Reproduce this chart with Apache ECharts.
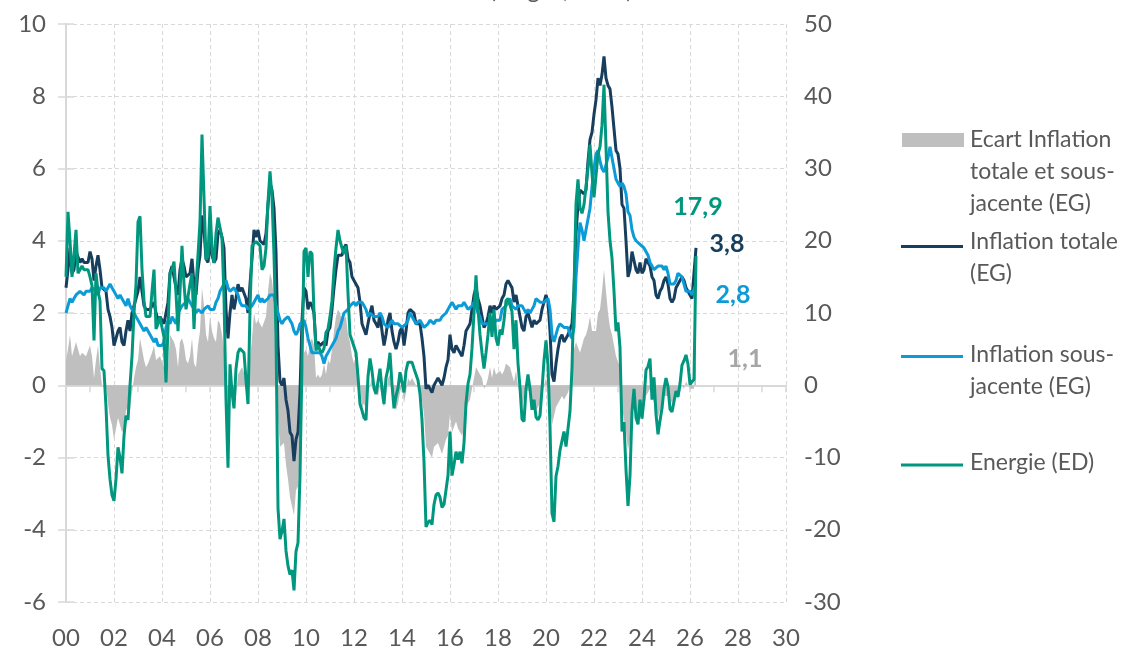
<!DOCTYPE html>
<html>
<head>
<meta charset="utf-8">
<script src="https://cdn.jsdelivr.net/npm/echarts@6/dist/echarts.min.js"></script>
<style>
html,body{margin:0;padding:0;background:#fff;}
#c{width:1128px;height:650px;}
</style>
</head>
<body>
<div id="c"></div>
<script>
// Monthly data, Jan 2000 -> Apr 2026 (index 0 = Jan 2000)
const yearLabels = ['00','02','04','06','08','10','12','14','16','18','20','22','24','26','28','30'];

const inflationTotale = [
2.7,3.2,3.8,3.1,3.2,3.7,3.7,3.4,3.5,3.4,3.4,3.4,
3.7,3.5,2.9,3.3,3.6,3.2,2.7,2.7,2.6,2.1,1.9,1.6,
1.1,1.1,1.5,1.6,1.2,1.1,1.5,1.8,1.5,2.0,2.2,2.4,
2.6,3.0,3.0,2.2,2.1,2.1,2.1,2.2,2.3,2.0,1.8,1.9,
1.9,1.7,1.7,2.3,3.1,3.3,3.0,2.7,2.5,3.2,3.5,3.3,
3.0,3.0,3.1,3.5,2.8,2.5,3.2,3.6,4.7,4.3,3.5,3.4,
4.0,3.6,3.4,3.5,4.2,4.3,4.1,3.8,2.1,1.3,2.0,2.5,
2.1,2.4,2.8,2.6,2.7,2.7,2.4,2.0,2.8,3.5,4.3,4.1,
4.3,4.0,4.0,3.9,4.2,5.0,5.6,5.4,4.9,3.7,1.1,0.1,
0.0,0.2,-0.4,-0.7,-1.3,-1.4,-2.1,-1.5,-1.3,-0.2,1.8,2.7,
2.6,2.1,2.3,2.2,2.0,1.1,1.2,1.1,1.1,1.2,1.1,1.5,
1.6,2.1,2.7,3.2,3.6,3.6,3.6,3.8,3.9,3.5,3.4,3.0,
2.9,2.9,2.7,2.3,1.7,1.7,1.4,1.7,2.0,2.2,1.8,1.7,
1.6,2.0,1.5,1.1,1.4,1.8,2.0,1.5,1.2,1.0,1.2,1.5,
1.6,1.1,1.5,2.0,2.1,2.1,2.0,1.7,1.7,1.7,1.3,0.8,
-0.1,0.0,-0.1,-0.2,0.0,0.1,0.2,0.2,0.0,0.2,0.5,0.7,
1.4,1.0,0.9,1.1,1.0,1.0,0.8,1.1,1.5,1.6,1.7,2.1,
2.5,2.7,2.4,2.2,1.9,1.6,1.7,1.9,2.2,2.0,2.2,2.1,
2.1,2.2,2.4,2.5,2.8,2.9,2.9,2.7,2.3,2.5,2.2,1.9,
1.6,1.5,1.9,2.0,1.8,1.6,1.8,1.7,1.7,1.8,2.1,2.3,
2.5,2.3,1.5,0.3,0.1,0.6,1.0,1.3,1.4,1.2,1.2,1.4,
1.4,1.7,2.6,4.2,5.0,5.4,5.4,5.3,5.4,6.2,6.8,7.0,
7.5,7.9,8.5,8.3,8.6,9.1,8.5,8.3,8.2,7.7,7.1,6.5,
6.4,6.0,5.0,4.9,4.0,3.0,3.2,3.7,3.7,3.2,3.1,3.4,
3.1,3.2,3.5,3.4,3.3,3.0,2.9,2.5,2.4,2.6,2.7,2.9,
3.0,2.8,2.4,2.3,2.4,2.7,2.7,2.9,3.0,2.9,2.7,2.7,
2.5,2.4,2.4,3.8];

const inflationSousJacente = [
2.0,2.2,2.4,2.3,2.4,2.5,2.5,2.6,2.6,2.5,2.6,2.6,
2.6,2.7,2.7,2.6,2.5,2.7,2.7,2.7,2.6,2.6,2.8,2.7,
2.6,2.6,2.4,2.5,2.5,2.3,2.2,2.4,2.2,2.2,2.0,1.9,
1.9,1.7,1.7,1.5,1.6,1.5,1.5,1.3,1.2,1.3,1.1,1.1,
1.1,1.2,1.6,1.8,1.7,1.9,1.8,1.7,2.0,2.0,2.2,2.2,
2.3,2.4,2.3,2.2,2.2,2.0,2.1,2.1,2.0,2.1,2.1,2.2,
2.1,2.1,2.1,2.3,2.4,2.6,2.7,2.8,2.9,2.7,2.6,2.6,
2.7,2.7,2.5,2.3,2.2,2.2,2.2,2.1,2.1,2.2,2.3,2.4,
2.5,2.3,2.4,2.3,2.3,2.4,2.5,2.5,2.5,2.2,2.0,1.8,
1.7,1.8,1.8,1.9,1.8,1.7,1.5,1.4,1.5,1.7,1.7,1.8,
1.6,1.3,1.1,0.9,0.9,0.9,0.9,0.9,0.8,0.6,0.8,0.8,
1.0,1.1,1.2,1.3,1.5,1.6,1.8,2.0,2.0,2.1,2.2,2.2,
2.3,2.2,2.3,2.3,2.3,2.2,2.1,1.9,2.0,2.0,1.9,1.9,
1.9,2.0,1.9,1.7,1.7,1.6,1.7,1.8,1.7,1.7,1.7,1.7,
1.6,1.6,1.7,1.8,2.0,1.9,1.9,1.7,1.7,1.8,1.7,1.6,
1.6,1.7,1.8,1.8,1.7,1.8,1.8,1.8,1.9,1.9,2.0,2.1,
2.2,2.3,2.2,2.1,2.2,2.2,2.2,2.3,2.2,2.1,2.1,2.2,
2.3,2.2,2.0,1.9,1.7,1.7,1.7,1.7,1.7,1.8,1.7,1.8,
1.8,1.8,2.1,2.1,2.2,2.3,2.4,2.2,2.2,2.1,2.2,2.2,
2.2,2.1,2.0,2.1,2.0,2.1,2.2,2.4,2.4,2.3,2.3,2.3,
2.3,2.4,2.1,1.4,1.2,1.2,1.6,1.7,1.7,1.6,1.6,1.6,
1.4,1.3,1.6,3.0,3.8,4.5,4.3,4.0,4.0,4.6,4.9,5.5,
6.0,6.4,6.5,6.2,6.0,5.9,5.9,6.3,6.6,6.3,6.0,5.7,
5.6,5.5,5.6,5.5,5.3,4.8,4.7,4.3,4.1,4.0,4.0,3.9,
3.9,3.8,3.8,3.6,3.4,3.3,3.2,3.2,3.3,3.3,3.3,3.2,
3.3,3.1,2.8,2.8,2.8,2.9,3.1,3.1,3.0,3.0,2.6,2.6,
2.6,2.5,2.5,2.8];

const ecartTotaleSousJacente = [
0.7,1.0,1.4,0.8,0.8,1.2,1.2,0.8,0.9,0.9,0.8,0.8,
1.1,0.8,0.2,0.7,1.1,0.5,0.0,0.0,0.0,-0.5,-0.9,-1.1,
-1.5,-1.5,-0.9,-0.9,-1.3,-1.2,-0.7,-0.6,-0.7,-0.2,0.2,0.5,
0.7,1.3,1.3,0.7,0.5,0.6,0.6,0.9,1.1,0.7,0.7,0.8,
0.8,0.5,0.1,0.5,1.4,1.4,1.2,1.0,0.5,1.2,1.3,1.1,
0.7,0.6,0.8,1.3,0.6,0.5,1.1,1.5,2.7,2.2,1.4,1.2,
1.9,1.5,1.3,1.2,1.8,1.7,1.4,1.0,-0.8,-1.4,-0.6,-0.1,
-0.6,-0.3,0.3,0.3,0.5,0.5,0.2,-0.1,0.7,1.3,2.0,1.7,
1.8,1.7,1.6,1.6,1.9,2.6,3.1,2.9,2.4,1.5,-0.9,-1.7,
-1.7,-1.6,-2.2,-2.6,-3.1,-3.1,-3.6,-2.9,-2.8,-1.9,0.1,0.9,
1.0,0.8,1.2,1.3,1.1,0.2,0.3,0.2,0.3,0.6,0.3,0.7,
0.6,1.0,1.5,1.9,2.1,2.0,1.8,1.8,1.9,1.4,1.2,0.8,
0.6,0.7,0.4,0.0,-0.6,-0.5,-0.7,-0.2,0.0,0.2,-0.1,-0.2,
-0.3,0.0,-0.4,-0.6,-0.3,0.2,0.3,-0.3,-0.5,-0.7,-0.5,-0.2,
0.0,-0.5,-0.2,0.2,0.1,0.2,0.1,0.0,0.0,-0.1,-0.4,-0.8,
-1.7,-1.7,-1.9,-2.0,-1.7,-1.7,-1.6,-1.6,-1.9,-1.7,-1.5,-1.4,
-0.8,-1.3,-1.3,-1.0,-1.2,-1.2,-1.4,-1.2,-0.7,-0.5,-0.4,-0.1,
0.2,0.5,0.4,0.3,0.2,-0.1,0.0,0.2,0.5,0.2,0.5,0.3,
0.3,0.4,0.3,0.4,0.6,0.6,0.5,0.5,0.1,0.4,0.0,-0.3,
-0.6,-0.6,-0.1,-0.1,-0.2,-0.5,-0.4,-0.7,-0.7,-0.5,-0.2,0.0,
0.2,-0.1,-0.6,-1.1,-1.1,-0.6,-0.6,-0.4,-0.3,-0.4,-0.4,-0.2,
0.0,0.4,1.0,1.2,1.2,0.9,1.1,1.3,1.4,1.6,1.9,1.5,
1.5,1.5,2.0,2.1,2.6,3.2,2.6,2.0,1.6,1.4,1.1,0.8,
0.8,0.5,-0.6,-0.6,-1.3,-1.8,-1.5,-0.6,-0.4,-0.8,-0.9,-0.5,
-0.8,-0.6,-0.3,-0.2,-0.1,-0.3,-0.3,-0.7,-0.9,-0.7,-0.6,-0.3,
-0.3,-0.3,-0.4,-0.5,-0.4,-0.2,-0.4,-0.2,0.0,-0.1,0.1,0.1,
-0.1,-0.1,-0.1,1.1];

const energie = [
15,24,20,15,18,21.5,15.5,16,16.5,16,16,16,
15,13.8,6.2,15.5,13,11.7,2.3,2,-3,-9.7,-13,-15.2,
-16,-13,-8.6,-10,-12.2,-7,-4.2,-4.8,0,4,10,14,
22.6,23.4,16,11.7,9.5,9.5,9.5,13,16,7.8,8.5,9.5,
8,6.7,0.4,8,15.5,16,17.1,12.7,7.5,13,19.3,14,
10.5,10.5,14,15.5,7.8,13.8,18,22.6,34.7,26,17.4,17.8,
24.8,18.8,16.9,21,23.2,23,20.4,12.2,-2,-11.4,2.9,-1,
-3.2,2.3,4.5,5.1,5,4.5,0.7,-2.6,10.5,19.3,19.5,19.9,
19.6,19.3,16,16.5,19,25.4,29.6,26,18,7,-17,-21.3,
-20.2,-18.5,-22.9,-25,-26.2,-25.6,-28.4,-23,-21.8,-12.5,3,18.5,
19,15,18.5,18.2,10,4.8,5.6,4.8,4.5,5.1,7.3,7.8,
9.5,11.7,16,19,21.5,20,19,18.2,19.3,12.7,7,6.2,
6,4.5,1.2,-2.6,-3.5,-4.5,-4.8,1.2,3.7,2,-0.4,-1.2,
0.5,2.3,-0.5,-2.6,1,2.3,4.5,0.1,-3.2,-1.5,-0.4,1.8,
1.8,-1,2,3.2,3.3,3.2,2.3,1.5,0.7,-1.2,-4.8,-10.6,
-19.6,-19,-18.7,-19.3,-16.5,-15.2,-14.9,-15.5,-16.9,-16.5,-14.5,-12.5,
-6.4,-12.5,-11,-9.2,-10.3,-9.2,-10.8,-8,-2.5,0.2,1.5,5.1,
10,15.2,10.5,7,4.5,2.3,4.5,7,10,6.7,10.5,6.5,
5.5,7.7,7,9,11.7,12,12.2,10.2,5,9,3,-0.3,
-4.7,-5,-0.5,1.5,-0.5,-3.4,-2,-4.4,-4.8,-4.2,-0.6,3.4,
6.2,2.8,-5.7,-17.7,-18.9,-12.6,-11.2,-9,-7.7,-6.4,-8.5,-6,
-3.6,2.4,13.2,25.1,28.5,24.5,23.8,25,24.8,30,33.3,29.3,
26,26,32,33,36,41.6,33,24,20,17.6,13,7.5,
8.7,5.2,-6.4,-5.1,-11.7,-16.7,-12.5,-3.6,-0.5,-4.5,-5.4,-2,
-4.6,-1.9,2.1,2.6,3.7,-2,1.1,-4,-6.8,-4.9,-3.2,-0.5,
1,-0.2,-3.3,-3.7,-3.5,-0.8,-1.6,0.2,2.8,3.4,4.2,2.9,
0.1,0.5,0.8,17.9];

const seriesNames = ['Ecart Inflation totale et sous-jacente (EG)','Inflation totale (EG)','Inflation sous-jacente (EG)','Energie (ED)'];
const colors = {gap:'#BFBFBF', total:'#173E5C', core:'#0B9BD7', energy:'#00977E', text:'#595959', axis:'#D9D9D9'};

const toPairs = arr => arr.map((v,i)=>[i,v]);
const fmt = v => v.toFixed(1).replace('.', ',');
const last = arr => arr[arr.length-1];

const FONT = 'Lato, "Open Sans", sans-serif';
const chart = echarts.init(document.getElementById('c'), null, {renderer:'canvas'});

chart.setOption({
  animation:false,
  backgroundColor:'#fff',
  grid:{left:66, right:342, top:24, bottom:46, containLabel:false},
  xAxis:[
    {type:'value', min:0, max:360, interval:24, position:'bottom',
     axisLine:{show:false, onZero:false}, axisTick:{show:false},
     axisLabel:{color:colors.text, fontSize:24, fontFamily:FONT, margin:24,
       formatter:v=>yearLabels[Math.round(v/24)]},
     splitLine:{show:true, lineStyle:{color:colors.axis, type:[4,3], width:1}}},
    {type:'value', min:0, max:360, interval:12, position:'top',
     axisLine:{show:true, onZero:true, onZeroAxisIndex:0, lineStyle:{color:colors.axis, width:2}},
     axisTick:{show:true, inside:true, length:7, lineStyle:{color:colors.axis, width:1.5}},
     axisLabel:{show:false}, splitLine:{show:false}}
  ],
  yAxis:[
    {type:'value', min:-6, max:10, interval:2, position:'left',
     axisLine:{show:true, lineStyle:{color:colors.axis, width:2}},
     axisTick:{show:true, length:8, lineStyle:{color:colors.axis, width:1.5}},
     axisLabel:{color:colors.text, fontSize:24, fontFamily:FONT, margin:20},
     splitLine:{show:true, lineStyle:{color:colors.axis, type:[4,3], width:1}}},
    {type:'value', min:-30, max:50, interval:10, position:'right',
     axisLine:{show:true, lineStyle:{color:colors.axis, width:2}},
     axisTick:{show:true, length:8, lineStyle:{color:colors.axis, width:1.5}},
     axisLabel:{color:colors.text, fontSize:24, fontFamily:FONT, margin:18},
     splitLine:{show:false}}
  ],
  series:[
    {name:seriesNames[0], type:'line', xAxisIndex:0, yAxisIndex:0, data:toPairs(ecartTotaleSousJacente),
     symbol:'none', lineStyle:{width:0, color:colors.gap}, itemStyle:{color:colors.gap},
     areaStyle:{color:colors.gap, opacity:1, origin:0}, z:1},
    {name:seriesNames[1], type:'line', xAxisIndex:0, yAxisIndex:0, data:toPairs(inflationTotale),
     symbol:'none', lineStyle:{width:3, color:colors.total}, itemStyle:{color:colors.total}, z:3},
    {name:seriesNames[2], type:'line', xAxisIndex:0, yAxisIndex:0, data:toPairs(inflationSousJacente),
     symbol:'none', lineStyle:{width:3, color:colors.core}, itemStyle:{color:colors.core}, z:4},
    {name:seriesNames[3], type:'line', xAxisIndex:0, yAxisIndex:1, data:toPairs(energie),
     symbol:'none', lineStyle:{width:3, color:colors.energy}, itemStyle:{color:colors.energy}, z:5}
  ],
  graphic:[
    // partially visible title (cut at top of the image)
    {type:'text', x:561, y:-22, style:{text:'(en g.a., en %)', font:'24px '+FONT, fill:colors.text, align:'center', verticalAlign:'top'}, z:10},
    // end-value labels
    {type:'text', x:698, y:207, style:{text:fmt(last(energie)), font:'bold 25px '+FONT, fill:colors.energy, align:'center', verticalAlign:'middle'}, z:10},
    {type:'text', x:727, y:244, style:{text:fmt(last(inflationTotale)), font:'bold 25px '+FONT, fill:colors.total, align:'center', verticalAlign:'middle'}, z:10},
    {type:'text', x:733, y:295, style:{text:fmt(last(inflationSousJacente)), font:'bold 25px '+FONT, fill:colors.core, align:'center', verticalAlign:'middle'}, z:10},
    {type:'text', x:745, y:359, style:{text:fmt(last(ecartTotaleSousJacente)), font:'bold 25px '+FONT, fill:'#A6A6A6', align:'center', verticalAlign:'middle'}, z:10},
    // legend
    {type:'rect', shape:{x:902, y:133, width:62, height:14}, style:{fill:colors.gap}, z:10},
    {type:'text', x:970, y:124, style:{text:'Ecart Inflation\ntotale et sous-\njacente (EG)', font:'23px '+FONT, lineHeight:31.7, fill:colors.text, align:'left', verticalAlign:'top'}, z:10},
    {type:'line', shape:{x1:901, y1:246.5, x2:963, y2:246.5}, style:{stroke:colors.total, lineWidth:3}, z:10},
    {type:'text', x:970, y:226, style:{text:'Inflation totale\n(EG)', font:'23px '+FONT, lineHeight:31.7, fill:colors.text, align:'left', verticalAlign:'top'}, z:10},
    {type:'line', shape:{x1:901, y1:356.5, x2:963, y2:356.5}, style:{stroke:colors.core, lineWidth:3}, z:10},
    {type:'text', x:970, y:339, style:{text:'Inflation sous-\njacente (EG)', font:'23px '+FONT, lineHeight:31.7, fill:colors.text, align:'left', verticalAlign:'top'}, z:10},
    {type:'line', shape:{x1:901, y1:465, x2:963, y2:465}, style:{stroke:colors.energy, lineWidth:3}, z:10},
    {type:'text', x:970, y:447, style:{text:'Energie (ED)', font:'23px '+FONT, lineHeight:31.7, fill:colors.text, align:'left', verticalAlign:'top'}, z:10}
  ]
});
</script>
</body>
</html>
